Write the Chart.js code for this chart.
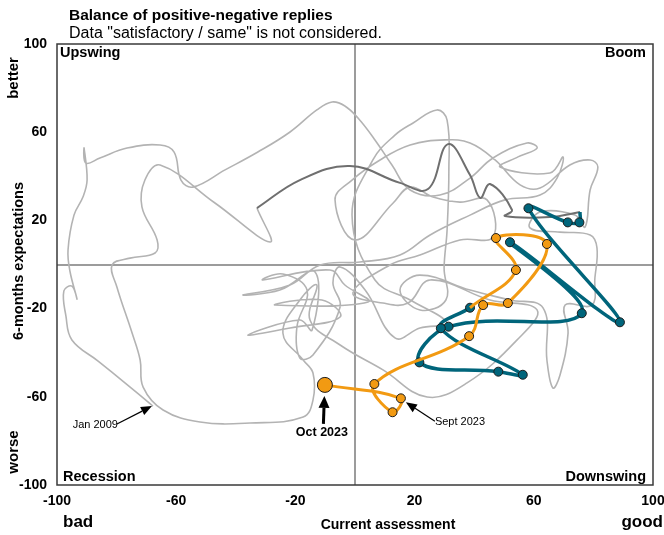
<!DOCTYPE html>
<html><head><meta charset="utf-8">
<script src="https://cdn.jsdelivr.net/npm/chart.js@4.4.1/dist/chart.umd.min.js"></script>
<style>html,body{margin:0;padding:0;background:#fff;overflow:hidden}</style>
</head><body>
<canvas id="c" width="664" height="535"></canvas>
<script>
// ---- Data (x = current assessment, y = 6-months expectations) ----
const xTicks = [-100, -60, -20, 20, 60, 100];
const yTicks = [-100, -60, -20, 20, 60, 100];

// history Jan 2009 onward (grey)
const greyX = [-67.8,-77.2,-86.2,-95.0,-97.0,-97.7,-95.0,-93.3,-95.6,-96.3,
  -94.3,-91.3,-89.9,-90.9,-90.3,-85.6,-76.5,-65.4,-60.7,-58.4,
  -54.4,-43.6,-32.6,-21.8,-12.8,-7.7,-3.4,1.0,6.7,12.4,
  18.5,28.5,38.6,46.3,57.7,61.1,54.7,48.7,65.4,69.8,
  67.8,62.1,50.3,38.6,25.2,15.1,1.7,-11.7,-21.8,-37.6,
  -25.2,-13.4,-14.4,-18.5,-35.9,-21.8,-5.0,-11.1,-26.8,4.4,
  -3.4,-8.4,
  -30.9,-24.2,-16.1,-19.5,-18.5,-14.1,-5.0,-7.4,-5.0,3.4,13.4,21.8,30.9,18.5,6.7,
  -1.0,6.0,13.4,19.5,27.5,30.9,31.5,30.9,
  29.9,30.5,21.8,15.1,21.8,38.6,52.0,63.1,64.4,66.4,
  68.8,71.5,70.5,79.5,80.5,81.2,78.9,68.8,58.7,62.1,
  73.8,77.2,78.9,81.5,78.9,72.1,62.1,55.4,47.0,38.6,
  30.2,18.5,8.4,-1.0,-6.7,0.0,
  12.8,18.5,26.2,35.2,44.3,46.3,35.2,21.8,
  11.7,
  -0.7,9.4,17.8,
  25.2,45.3,61.1,
  54.4,37.6,24.2,9.4,-5.0,-15.1,-12.8,-18.5,-24.2,-17.4,
  -14.1,-14.1,-17.4,-35.2,-52.0,-64.4,-71.1,-72.1,-74.8,-79.9,
  -81.5,-75.5,-67.1,-66.4,-71.5,-70.5,-65.4,-47.0,-28.5,-32.9];
const greyY = [-64.2,-53.7,-43.8,-34.2,-23.4,-12.0,-9.8,-15.6,-3.4,6.6,
  22.4,30.6,38.3,52.8,46.0,48.3,52.8,54.2,51.0,38.3,
  35.1,42.9,51.0,60.1,70.1,73.7,71.9,66.4,56.5,45.1,
  33.8,31.5,39.2,48.3,55.1,52.8,48.8,44.2,41.5,48.8,
  39.2,31.5,29.3,22.4,13.4,4.3,1.1,-0.2,-9.3,-13.8,
  -11.6,-3.4,-29.7,-25.2,-32.0,-28.8,-23.8,-16.1,-18.4,-17.0,
  -9.3,-2.5,
  -7.0,-4.3,-11.6,-28.3,-42.4,-41.0,-19.3,-8.4,-1.1,-11.6,-33.3,-28.8,-26.5,-16.1,-7.0,
  22.4,47.4,58.7,64.2,70.1,65.5,42.9,15.6,
  -1.6,-16.1,-20.6,-11.6,-4.8,-11.6,-16.1,-19.7,-43.3,-56.0,
  -50.1,-31.1,-18.4,-18.4,-6.1,7.5,13.4,14.7,16.6,23.8,
  22.4,17.0,33.8,44.2,47.4,45.1,34.7,36.1,47.4,55.1,
  56.5,54.2,47.4,38.3,29.3,11.1,
  27.9,35.1,30.6,28.3,29.3,12.5,11.1,4.3,
  -0.2,
  -12.9,-17.5,-17.5,
  -7.0,-16.1,-20.6,
  -34.2,-53.7,-60.1,-47.8,-36.5,-25.2,-9.3,-16.1,-31.1,-43.3,
  -49.2,-61.5,-69.2,-71.9,-71.4,-66.0,-55.6,-43.3,-31.1,-10.2,
  -0.2,2.9,5.2,11.1,26.1,38.3,45.1,27.9,10.2,25.6];

// 2021 (dark grey)
const darkX = [-18.5,-1.7,15.1,24.5,31.2,38.6,42.0,45.3,52.7,50.3,65.4,75.5];
const darkY = [38.3,44.7,37.0,34.2,54.6,40.6,30.2,36.5,24.7,22.0,21.5,23.8];

// 2022 (teal)
const tealX = [75.3,71.4,58.2,88.9,52.0,76.1,31.4,21.6,48.1,56.3,28.8,38.6];
const tealY = [19.1,19.1,25.5,-26.2,10.1,-22.1,-28.2,-44.4,-48.6,-50.0,-28.9,-19.6];

// 2023 (orange)
const orangeMonths = ['Jan 2023','Feb 2023','Mar 2023','Apr 2023','May 2023','Jun 2023','Jul 2023','Aug 2023','Sept 2023','Oct 2023'];
const orangeX = [54.0,47.3,64.4,51.3,43.0,38.3,6.5,12.6,15.4,-10.1];
const orangeY = [-2.5,12.0,9.3,-17.5,-18.4,-32.5,-54.2,-67.0,-60.7,-54.6];

const quadrantLabels = ['Upswing','Boom','Recession','Downswing'];

// ---- build datasets ----
const pts = (xs, ys) => xs.map((v, i) => ({x: v, y: ys[i]}));
const greyPts = pts(greyX, greyY);
const darkPts = [greyPts[greyPts.length-1]].concat(pts(darkX, darkY));
const tealPts = [darkPts[darkPts.length-1]].concat(pts(tealX, tealY));
const orangePts = [tealPts[tealPts.length-1]].concat(pts(orangeX, orangeY));

const FF = '"Liberation Sans", Arial, sans-serif';
const TEAL = '#00657b', ORANGE = '#f29a12';

function arrow(ctx, x1, y1, x2, y2, hl, hw, lw) {
  const ang = Math.atan2(y2 - y1, x2 - x1);
  const bx = x2 - hl * Math.cos(ang), by = y2 - hl * Math.sin(ang);
  ctx.lineWidth = lw;
  ctx.beginPath(); ctx.moveTo(x1, y1); ctx.lineTo(bx, by); ctx.stroke();
  ctx.beginPath();
  ctx.moveTo(x2, y2);
  ctx.lineTo(bx + hw/2 * Math.sin(ang), by - hw/2 * Math.cos(ang));
  ctx.lineTo(bx - hw/2 * Math.sin(ang), by + hw/2 * Math.cos(ang));
  ctx.closePath(); ctx.fill();
}

const deco = {
  id: 'deco',
  beforeDatasetsDraw(chart) {
    const {ctx, chartArea: a, scales: {x, y}} = chart;
    ctx.save();
    ctx.strokeStyle = '#9c9c9c'; ctx.lineWidth = 2;
    const x0 = Math.round(x.getPixelForValue(0)), y0 = Math.round(y.getPixelForValue(0));
    ctx.beginPath();
    ctx.moveTo(x0, a.top); ctx.lineTo(x0, a.bottom);
    ctx.moveTo(a.left, y0); ctx.lineTo(a.right, y0);
    ctx.stroke();
    ctx.restore();
  },
  afterDraw(chart) {
    const {ctx, chartArea: a, scales: {x, y}} = chart;
    ctx.save();
    // frame
    ctx.strokeStyle = '#3a3a3a'; ctx.lineWidth = 1.5;
    ctx.strokeRect(a.left, a.top, a.right - a.left, a.bottom - a.top);
    ctx.fillStyle = '#000';
    // titles
    ctx.textBaseline = 'alphabetic'; ctx.textAlign = 'left';
    ctx.font = 'bold 15.5px ' + FF;
    ctx.fillText('Balance of positive-negative replies', 69, 20);
    ctx.font = '16px ' + FF;
    ctx.fillText('Data "satisfactory / same" is not considered.', 69, 38);
    // quadrant labels
    ctx.font = 'bold 14.5px ' + FF;
    ctx.textAlign = 'left';
    ctx.fillText(quadrantLabels[0], a.left + 3, a.top + 13);
    ctx.fillText(quadrantLabels[2], a.left + 6, a.bottom - 4);
    ctx.textAlign = 'right';
    ctx.fillText(quadrantLabels[1], a.right - 7, a.top + 13);
    ctx.fillText(quadrantLabels[3], a.right - 7, a.bottom - 4);
    // axis words
    ctx.font = 'bold 17px ' + FF;
    ctx.textAlign = 'left';
    ctx.fillText('bad', 63, 527);
    ctx.textAlign = 'right';
    ctx.fillText('good', 663, 527);
    ctx.textAlign = 'center';
    ctx.font = 'bold 14px ' + FF;
    ctx.fillText('Current assessment', 388, 529);
    // rotated y words
    const rot = (txt, cx, cy, font) => {
      ctx.save(); ctx.translate(cx, cy); ctx.rotate(-Math.PI/2);
      ctx.font = font; ctx.textAlign = 'center'; ctx.textBaseline = 'middle';
      ctx.fillText(txt, 0, 0); ctx.restore();
    };
    rot('better', 14, 78, 'bold 15px ' + FF);
    rot('6-months expectations', 19, 261, 'bold 14.5px ' + FF);
    rot('worse', 14, 452, 'bold 15px ' + FF);

    // annotations
    ctx.strokeStyle = '#000'; ctx.fillStyle = '#000';
    const jx = x.getPixelForValue(greyX[0]), jy = y.getPixelForValue(greyY[0]);
    arrow(ctx, jx - 36, jy + 18, jx - 1, jy, 11, 9, 1.2);
    ctx.font = '11px ' + FF; ctx.textAlign = 'right'; ctx.textBaseline = 'middle';
    ctx.fillText('Jan 2009', jx - 35, jy + 19);

    const si = orangeMonths.indexOf('Sept 2023');
    const sx = x.getPixelForValue(orangeX[si]), sy = y.getPixelForValue(orangeY[si]);
    arrow(ctx, sx + 34, sy + 23, sx + 5, sy + 4, 11, 9, 1.2);
    ctx.textAlign = 'left';
    ctx.fillText('Sept 2023', sx + 34, sy + 24);

    const oi = orangeMonths.indexOf('Oct 2023');
    const ox = x.getPixelForValue(orangeX[oi]), oy = y.getPixelForValue(orangeY[oi]);
    arrow(ctx, ox - 1.5, oy + 39, ox - 0.5, oy + 11, 12, 11, 3);
    ctx.font = 'bold 12.5px ' + FF; ctx.textAlign = 'center';
    ctx.fillText('Oct 2023', ox - 3, oy + 48);
    ctx.restore();
  }
};

const tickFont = {family: FF, size: 14, weight: 'bold'};
new Chart(document.getElementById('c'), {
  type: 'line',
  data: {
    datasets: [
      {data: orangePts, borderColor: ORANGE, borderWidth: 3, backgroundColor: ORANGE,
       pointRadius: ctx => ctx.dataIndex === 0 ? 0 : (ctx.dataIndex === orangePts.length - 1 ? 7.5 : 4.5),
       pointBorderColor: '#1c1c1c', pointBorderWidth: 1, pointBackgroundColor: ORANGE, tension: 0.4, order: 1},
      {data: tealPts, borderColor: TEAL, borderWidth: 3.5, backgroundColor: TEAL,
       pointRadius: ctx => ctx.dataIndex === 0 ? 0 : 4.5,
       pointBorderColor: '#1c1c1c', pointBorderWidth: 1, pointBackgroundColor: TEAL, tension: 0.4, order: 2},
      {data: darkPts, borderColor: '#6f6f6f', borderWidth: 2, pointRadius: 0, tension: 0.4, order: 3},
      {data: greyPts, borderColor: '#b3b3b3', borderWidth: 1.6, pointRadius: 0, tension: 0.4, order: 4}
    ]
  },
  options: {
    responsive: false, animation: false, events: [],
    layout: {padding: {top: 44, right: 0, bottom: 0, left: 0}},
    plugins: {legend: {display: false}, tooltip: {enabled: false}, title: {display: false}},
    scales: {
      x: {type: 'linear', min: -100, max: 100,
          afterBuildTicks: s => { s.ticks = xTicks.map(v => ({value: v})); },
          afterFit: s => { s.height = 50; s.paddingRight = 11; s.paddingLeft = 0; },
          grid: {display: false, drawTicks: false}, border: {display: false},
          ticks: {font: tickFont, color: '#000', padding: 8, maxRotation: 0, autoSkip: false}},
      y: {type: 'linear', min: -100, max: 100,
          afterBuildTicks: s => { s.ticks = yTicks.map(v => ({value: v})); },
          afterFit: s => { s.width = 57; s.paddingTop = 0; s.paddingBottom = 0; },
          grid: {display: false, drawTicks: false}, border: {display: false},
          ticks: {font: tickFont, color: '#000', padding: 10, autoSkip: false}}
    }
  },
  plugins: [deco]
});
</script>
</body></html>
